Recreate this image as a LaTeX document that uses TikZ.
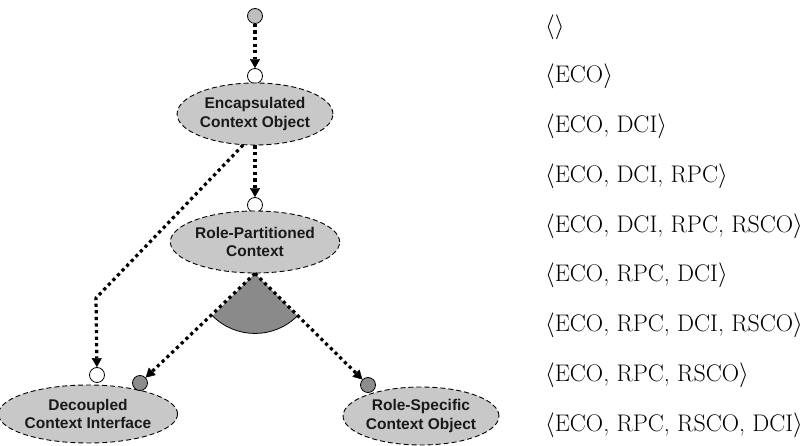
\documentclass[tikz,border=0pt]{standalone}
\usepackage{fontspec}
\newfontfamily\labelfont{Liberation Sans}
\usetikzlibrary{shapes.geometric,arrows.meta,calc}
\definecolor{ellfill}{RGB}{200,200,200}
\definecolor{wedgefill}{RGB}{138,138,138}
\definecolor{topdot}{RGB}{190,190,190}
\definecolor{botdot}{RGB}{140,140,140}
\tikzset{
  ctx/.style={ellipse, draw, dashed, dash pattern=on 5pt off 3pt, line width=0.9pt,
    fill=ellfill, inner sep=0pt, align=center, text=black!90,
    font=\labelfont\bfseries\fontsize{15.5}{18.5}\selectfont},
  port/.style={circle, draw, line width=0.8pt, inner sep=0pt, minimum size=15pt},
  dotarrow/.style={line width=3.2pt, dash pattern=on 3.2pt off 3.4pt,
    -{Triangle[length=9pt,width=10pt,line width=0.4pt]}},
  listtext/.style={anchor=west, inner sep=0pt, font=\fontsize{24}{28}\selectfont}
}
\begin{document}
\begin{tikzpicture}[x=1pt,y=-1pt]
\useasboundingbox (0,0) rectangle (811,446);
% nodes
\node[port, fill=topdot] (start) at (255,16) {};
\node[port, fill=white] (ecoin) at (255,76) {};
\node[ctx, minimum width=154pt, minimum height=62pt] (eco) at (255,114) {Encapsulated\\Context Object};
\node[port, fill=white] (rpcin) at (255,205) {};
\node[ctx, minimum width=150pt, minimum height=62pt] (rpc) at (255,242) {Role-Partitioned\\Context};
\node[ctx, minimum width=150pt, minimum height=58pt] (dci) at (88,414) {Decoupled\\Context Interface};
\node[ctx, minimum width=152pt, minimum height=58pt] (rsco) at (421,416) {Role-Specific\\Context Object};
\node[port, fill=white] (dciin) at (97,375) {};
\node[port, fill=botdot] (dcidot) at (140,383) {};
\node[port, fill=botdot] (rscodot) at (368,385) {};
\coordinate (bend) at (96,298);
% wedge
\fill[wedgefill] (rpc.south) -- ++(-42.43,42.43) arc[start angle=135,end angle=45,radius=60] -- cycle;
\draw[line width=0.8pt] (rpc.south) ++(-42.43,42.43) arc[start angle=135,end angle=45,radius=60];
% connectors
\draw[dotarrow] (start) -- (ecoin);
\draw[dotarrow] (eco) -- (rpcin);
\draw[dotarrow] (eco.249) -- (bend) -- (dciin);
\draw[dotarrow] (rpc.south) -- (dcidot);
\draw[dotarrow] (rpc.south) -- (rscodot);
% list
\node[listtext] (l0) at (545,27) {$\langle\rangle$};
\node[listtext] (l1) at (545,76.75) {$\langle$ECO$\rangle$};
\node[listtext] (l2) at (545,126.5) {$\langle$ECO, DCI$\rangle$};
\node[listtext] (l3) at (545,176.25) {$\langle$ECO, DCI, RPC$\rangle$};
\node[listtext] (l4) at (545,226) {$\langle$ECO, DCI, RPC, RSCO$\rangle$};
\node[listtext] (l5) at (545,275.75) {$\langle$ECO, RPC, DCI$\rangle$};
\node[listtext] (l6) at (545,325.5) {$\langle$ECO, RPC, DCI, RSCO$\rangle$};
\node[listtext] (l7) at (545,375.25) {$\langle$ECO, RPC, RSCO$\rangle$};
\node[listtext] (l8) at (545,425) {$\langle$ECO, RPC, RSCO, DCI$\rangle$};
\end{tikzpicture}
\end{document}
